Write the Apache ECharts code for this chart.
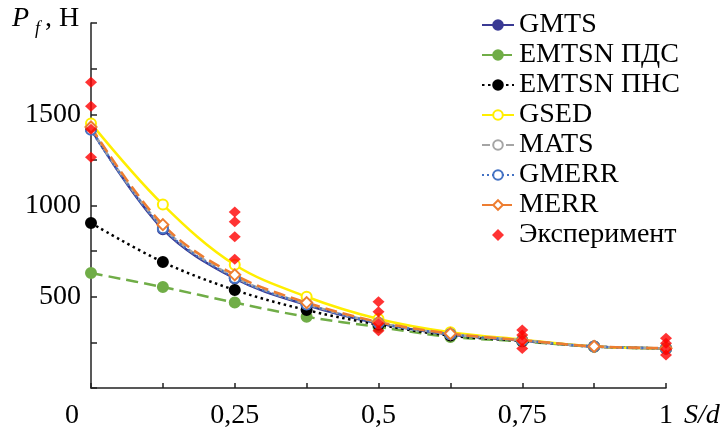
<!DOCTYPE html>
<html>
<head>
<meta charset="utf-8">
<script src="https://cdn.jsdelivr.net/npm/echarts@6/dist/echarts.min.js"></script>
<style>
  html, body { margin: 0; padding: 0; background: #fff; }
  #chart { width: 724px; height: 432px; }
</style>
</head>
<body>
<div id="chart"></div>
<script>
// исходные данные
const xValues = [0, 0.125, 0.25, 0.375, 0.5, 0.625, 0.75, 0.875, 1];

const gmts   = [1418, 870, 600, 455, 354, 293, 260, 227, 217];
const emtsnPds = [630, 553, 468, 390, 334, 280, 255, 226, 217];
const emtsnPns = [904, 690, 537, 427, 347, 287, 258, 227, 217];
const gsed   = [1450, 1005, 675, 500, 378, 305, 265, 228, 218];
const mats   = [1420, 880, 608, 460, 358, 295, 261, 227, 217];
const gmerr  = [1415, 875, 603, 458, 356, 294, 260, 227, 217];
const merr   = [1430, 895, 620, 468, 362, 298, 262, 228, 218];

const expX = [0, 0, 0, 0, 0.25, 0.25, 0.25, 0.25, 0.5, 0.5, 0.5, 0.5,
              0.75, 0.75, 0.75, 0.75, 1, 1, 1, 1];
const expY = [1676, 1544, 1418, 1265, 965, 911, 829, 705, 472, 418, 354, 314,
              318, 290, 259, 217, 272, 245, 212, 181];

const FONT = "'Times New Roman', 'Liberation Serif', 'DejaVu Serif', serif";

function pairs(ys) {
    return xValues.map((x, i) => [x, ys[i]]);
}

function lineSeries(name, ys, color, type, symbol, filled) {
    return {
        name: name,
        type: 'line',
        data: pairs(ys),
        smooth: 0.35,
        symbol: symbol,
        symbolSize: symbol === 'diamond' ? 11 : 10,
        lineStyle: { color: color, width: 2.5, type: type },
        itemStyle: {
            color: filled ? color : '#fff',
            borderColor: color,
            borderWidth: 2
        },
        z: 2
    };
}

var myChart = echarts.init(document.getElementById('chart'));

const option = {
    animation: false,
    textStyle: { fontFamily: FONT },
    grid: { left: 91, right: 58, top: 23, bottom: 44 },
    legend: {
        orient: 'vertical',
        left: 476,
        top: 6,
        itemWidth: 32,
        itemHeight: 12,
        itemGap: 2,
        textStyle: { fontFamily: FONT, fontSize: 28, color: '#000' },
        data: ['GMTS', 'EMTSN ПДС', 'EMTSN ПНС', 'GSED', 'MATS', 'GMERR', 'MERR',
            { name: 'Эксперимент', icon: 'path://M0,-6L6,0L0,6L-6,0Z' }]
    },
    xAxis: {
        type: 'value',
        min: 0,
        max: 1,
        interval: 0.125,
        splitLine: { show: false },
        axisLine: { lineStyle: { color: '#222', width: 1.5 } },
        axisTick: { inside: true, length: 5, lineStyle: { color: '#222', width: 1.5 } },
        axisLabel: {
            margin: 14,
            fontFamily: FONT,
            fontSize: 28,
            color: '#000',
            formatter: function (v) {
                if (Math.abs(v * 4 - Math.round(v * 4)) > 1e-6) return '';
                if (v === 0) return '{z|0}';
                return String(v).replace('.', ',');
            },
            rich: {
                z: { fontFamily: FONT, fontSize: 28, color: '#000', padding: [0, 38, 0, 0] }
            }
        }
    },
    yAxis: {
        type: 'value',
        min: 0,
        max: 2000,
        interval: 250,
        splitLine: { show: false },
        axisLine: { show: true, lineStyle: { color: '#222', width: 1.5 } },
        axisTick: { show: true, inside: true, length: 6, lineStyle: { color: '#222', width: 1.5 } },
        axisLabel: {
            margin: 10,
            fontFamily: FONT,
            fontSize: 28,
            color: '#000',
            formatter: function (v) {
                return (v % 500 === 0 && v > 0 && v < 2000) ? String(v) : '';
            }
        }
    },
    graphic: [
        { type: 'text', left: 12, top: 5,
          style: { text: 'P', fontFamily: FONT, fontStyle: 'italic', fontSize: 28, fill: '#000' } },
        { type: 'text', left: 35, top: 20,
          style: { text: 'f', fontFamily: FONT, fontStyle: 'italic', fontSize: 18, fill: '#000' } },
        { type: 'text', left: 45, top: 5,
          style: { text: ', Н', fontFamily: FONT, fontSize: 28, fill: '#000' } },
        { type: 'text', left: 684, top: 402,
          style: { text: 'S/d', fontFamily: FONT, fontStyle: 'italic', fontSize: 28, fill: '#000' } }
    ],
    series: [
        lineSeries('GMTS', gmts, '#3a3a94', 'solid', 'circle', true),
        lineSeries('EMTSN ПДС', emtsnPds, '#70ad47', [12, 6], 'circle', true),
        lineSeries('EMTSN ПНС', emtsnPns, '#000000', [2.5, 3.5], 'circle', true),
        lineSeries('GSED', gsed, '#ffee00', 'solid', 'circle', false),
        lineSeries('MATS', mats, '#a5a5a5', [8, 4], 'circle', false),
        lineSeries('GMERR', gmerr, '#4472c4', [2, 3], 'circle', false),
        lineSeries('MERR', merr, '#ed7d31', [12, 6], 'diamond', false),
        {
            name: 'Эксперимент',
            type: 'scatter',
            data: expX.map((x, i) => [x, expY[i]]),
            symbol: 'diamond',
            symbolSize: [12, 11],
            itemStyle: { color: '#ff0000' },
            z: 3
        }
    ]
};

myChart.setOption(option);

window.addEventListener('resize', function () {
    myChart.resize();
});
</script>
</body>
</html>
